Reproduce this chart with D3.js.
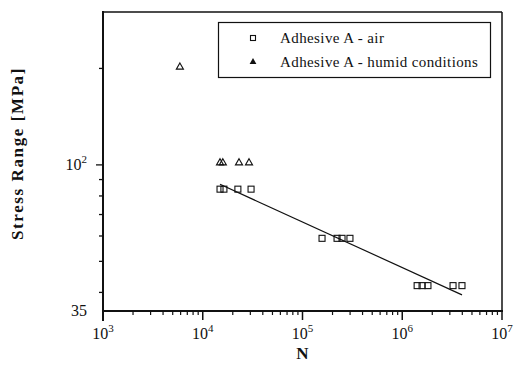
<!DOCTYPE html>
<html>
<head>
<meta charset="utf-8">
<script src="https://cdn.jsdelivr.net/npm/d3@7"></script>
<style>
  body { margin: 0; background: #fff; }
</style>
</head>
<body>
<script>
// cycles to failure N and stress range S [MPa]
var airN = [14900, 16300, 22500, 30500, 157000, 222000, 249000, 299000, 1410000, 1580000, 1810000, 3230000, 3970000],
    airS = [84, 84, 84, 84, 59, 59, 59, 59, 42, 42, 42, 42, 42];
var humidN = [5900, 14900, 15900, 23100, 29100],
    humidS = [202, 101.5, 101.5, 101.5, 101.5];
// fitted line through the air data (end points)
var fitN = [14900, 3970000],
    fitS = [87, 39.3];
var legendLabels = ["Adhesive A - air", "Adhesive A - humid conditions"];
var xDecades = [1e3, 1e4, 1e5, 1e6, 1e7],
    yTicks = [40, 50, 60, 70, 80, 90, 100, 200],
    yLabels = [35, 100];

var width = 515, height = 369,
    margin = { top: 12, right: 13, bottom: 58, left: 103 };

var svg = d3.select("body").append("svg")
    .attr("width", width).attr("height", height)
    .style("font-family", "'Liberation Serif', 'DejaVu Serif', serif");

var x = d3.scaleLog().domain([1e3, 1e7]).range([margin.left, width - margin.right]),
    y = d3.scaleLog().domain([35, 300]).range([height - margin.bottom, margin.top]);

var x0 = x.range()[0], x1 = x.range()[1],
    y0 = y.range()[0], y1 = y.range()[1];

// frame
svg.append("line").attr("x1", x0).attr("x2", x1).attr("y1", y1).attr("y2", y1)
    .attr("stroke", "#111").attr("stroke-width", 1.5);
svg.append("line").attr("x1", x1).attr("x2", x1).attr("y1", y1).attr("y2", y0)
    .attr("stroke", "#111").attr("stroke-width", 1.5);

// x axis, minor ticks 2..9 per decade
var xMinor = [];
xDecades.slice(0, -1).forEach(function(d) {
  for (var k = 2; k <= 9; k++) xMinor.push(d * k);
});
var gx = svg.append("g").attr("transform", "translate(0," + y0 + ")");
gx.append("line").attr("x1", x0 - 1).attr("x2", x1 + 1)
    .attr("stroke", "#111").attr("stroke-width", 2);
gx.selectAll(".minor").data(xMinor).enter().append("line")
    .attr("x1", d => x(d)).attr("x2", d => x(d))
    .attr("y1", 0).attr("y2", 4)
    .attr("stroke", "#111").attr("stroke-width", 1.2);
gx.selectAll(".major").data(xDecades).enter().append("line")
    .attr("x1", d => x(d)).attr("x2", d => x(d))
    .attr("y1", 0).attr("y2", 9)
    .attr("stroke", "#111").attr("stroke-width", 1.5);
var xl = gx.selectAll(".lbl").data(xDecades).enter().append("text")
    .attr("x", d => x(d)).attr("y", 28)
    .attr("text-anchor", "middle").style("font-size", "16px").attr("fill", "#111");
xl.append("tspan").text("10");
xl.append("tspan").attr("dy", -7).style("font-size", "11px")
    .text(d => Math.round(Math.log10(d)));

svg.append("text").attr("x", (x0 + x1) / 2).attr("y", 359)
    .attr("text-anchor", "middle").style("font-size", "17px").style("font-weight", "bold")
    .attr("fill", "#111").text("N");

// y axis
var gy = svg.append("g").attr("transform", "translate(" + x0 + ",0)");
gy.append("line").attr("y1", y1 - 1).attr("y2", y0 + 10)
    .attr("stroke", "#111").attr("stroke-width", 2);
gy.selectAll(".tick").data(yTicks).enter().append("line")
    .attr("y1", d => y(d)).attr("y2", d => y(d))
    .attr("x1", 0).attr("x2", d => d === 100 ? -7 : -4)
    .attr("stroke", "#111").attr("stroke-width", 1.3);
var yl = gy.selectAll(".lbl").data(yLabels).enter().append("text")
    .attr("x", -16).attr("y", d => y(d) + 5)
    .attr("text-anchor", "end").style("font-size", "16px").attr("fill", "#111");
yl.append("tspan").text(d => d === 100 ? "10" : d);
yl.filter(d => d === 100).append("tspan").attr("dy", -7).style("font-size", "11px").text("2");

svg.append("text")
    .attr("transform", "translate(23," + ((y0 + y1) / 2 - 8) + ") rotate(-90)")
    .attr("text-anchor", "middle").style("font-size", "17px").style("font-weight", "bold")
    .style("letter-spacing", "1.6px").attr("fill", "#111")
    .text("Stress Range [MPa]");

// fit line
svg.append("line")
    .attr("x1", x(fitN[0])).attr("y1", y(fitS[0]))
    .attr("x2", x(fitN[1])).attr("y2", y(fitS[1]))
    .attr("stroke", "#111").attr("stroke-width", 1.2);

var sq = 6;
svg.selectAll(".air").data(airN).enter().append("rect")
    .attr("x", d => x(d) - sq / 2).attr("y", (d, i) => y(airS[i]) - sq / 2)
    .attr("width", sq).attr("height", sq)
    .attr("fill", "none").attr("stroke", "#111").attr("stroke-width", 1.1);

var tri = d3.symbol().type(d3.symbolTriangle).size(22);
svg.selectAll(".humid").data(humidN).enter().append("path")
    .attr("d", tri)
    .attr("transform", (d, i) => "translate(" + x(d) + "," + y(humidS[i]) + ")")
    .attr("fill", "none").attr("stroke", "#111").attr("stroke-width", 1.1);

// legend
var lg = svg.append("g");
lg.append("rect").attr("x", 218.5).attr("y", 22.5).attr("width", 272).attr("height", 55)
    .attr("fill", "#fff").attr("stroke", "#111").attr("stroke-width", 1.2);
lg.append("rect").attr("x", 253 - 2.5).attr("y", 38 - 2.5).attr("width", 5).attr("height", 5)
    .attr("fill", "none").attr("stroke", "#111").attr("stroke-width", 1.1);
lg.append("path").attr("d", d3.symbol().type(d3.symbolTriangle).size(20))
    .attr("transform", "translate(253,62)").attr("fill", "#111");
lg.selectAll(".lt").data(legendLabels).enter().append("text")
    .attr("x", 280).attr("y", (d, i) => 43 + i * 24)
    .style("font-size", "15px").style("letter-spacing", "0.4px").attr("fill", "#111")
    .text(d => d);
</script>
</body>
</html>
